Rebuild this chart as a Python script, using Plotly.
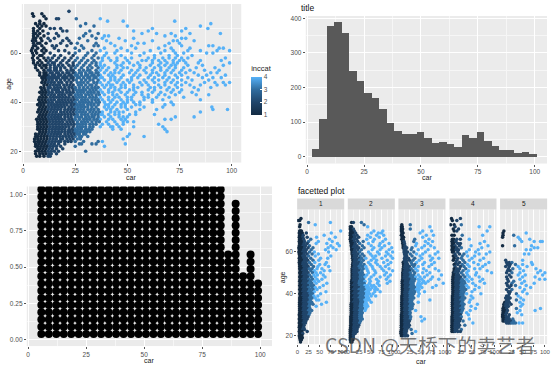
import plotly.graph_objects as go

W, H = 554, 367
CAT_LIMITS = [12, 25, 37]
CAT_COLORS = ["#132B43", "#20456A", "#306C9E", "#56B1F7"]

# main scatter: (age, car values)
SCATTER_ROWS = [
(77,[22]),(76,[4.5,9]),(75,[5,10]),(74,[11,16,17,25.5,37]),(73,[40.5,48,72.7,8]),(72,[8,30,90,6,10]),(71,[7,9,11,27.5,34,50,85]),
(70,[5,8,13,15,18,62,78,88.6]),(69,[5,7,9.5,19,21,32,53,60,76]),(68,[5,6,8,12,16,30,36,57,64,71,80,94.6]),
(67,[5,7,10,17,29,33,39,41,68,73]),(66,[5,6,8.5,12,15,21,27,35,38,46,53,76,78]),(65,[4.5,6,9,13,19,22,31,40,49,62,72,74,82]),
(64,[5,7,8,11,18,23,26,35,42,55,58,70,75]),(63,[5,6,9,14,16,21,28,34,36,44,52,68,76,89,91]),(62,[4.5,7,10,15,25,29,39,47,54,65,71,80,94,96]),
(61,[4,6,9,11,17,20,27,33,37,45,50,61,68,72,79,85,93,99]),(60,[4.5,6.5,10,13,22,25,31,35,40,44,52,58,66,73,77,88,91]),
(59,[5,8,9,15,18,24,30,34,39,47,56,63,70,74,81]),(58,[4.5,7,10,14,20,23,29,36,41,45,49,60,67,73,76,79,97]),
(57,[5,8,11,16,19,25,28,31,38,42,50,57,62,68,72,75,77,85,95]),(56,[5,7,12,15,21,24,30,33,37,44,48,55,69,74,78,84,99]),
(55,[6,8,10,13,19,22,26,32,35,39,47,53,61,65,71,73,79,86,96]),(54,[6,9,11,15,18,20,25,28,31,36,41,45,50,56,63,70,77,83,92]),
(53,[7,10,13,16,21,24,29,32,35,40,44,52,58,66,72,76,80,87,94]),(52,[8,11,14,17,19,22,25,27,30,33,36,39,42,46,51,59,64,71,75,78,82,90,93]),
(51,[8,10,12,15,18,20,23,26,28,31,34,37,43,48,53,61,65,73,84,88,97]),(50,[9,11,13,15,17,19,21,24,27,29,32,35,38,44,47,55,60,67,74,79,86,91,95]),
(49,[9.5,11,12.5,14,16,18,20,22,24,25.5,28,30,32,33.5,36,39,42,46,52,62,69,76,81,89]),
(48,[9,10.5,12,13.5,15,17,18.5,21,23,26,27.5,29,31,34,35.5,37,41,48,51,59,68,71,78,87,92,96,99]),
(47,[10,11.5,13,14.5,16,17.5,19.5,21,22.5,24,26.5,28,30,32,33,35,38,40,43,47,53,57,65,73,80,85,93,97]),
(46,[8.5,10,12,13,15,16.5,18,20,22,23.5,25,27,29,31,33,34.5,36,39,42,49,55,63,74,82,90]),
(45,[9,10.5,12,14,15.5,17,19,20.5,22,24,25.5,27,28.5,30,32,33.5,35,37,41,44,51,60,69,76,84]),
(44,[8,9.5,11,12.5,14,16,17.5,19,21,22.5,24,26,27.5,29,31,32.5,34,36,38,43,50,54,62,71,81]),
(43,[9,10.5,12,13.5,15,17,18.5,20,22,23,25,26.5,28,30,31.5,33,35,36.5,39,45,49,57,65,73,83,89]),
(42,[8,9.5,11,13,14.5,16,17.5,19,20.5,22,24,25.5,27,28.5,30,32,33.5,35,37,41,44,52,60,70,77]),
(41,[7.5,9,10.5,12,13.5,15,17,18.5,20,21.5,23,24.5,26,28,29.5,31,33,34.5,36,38,43,47,50,58,67,85]),
(40,[8,9.5,11,12.5,14,16,17.5,19,20.5,22,23.5,25,27,28.5,30,31.5,33,35,36.5,39,42,45,48,53,56,71]),
(39,[7,8.5,10,12,13.5,15,16.5,18,19.5,21,23,24.5,26,27.5,29,31,32.5,34,36,41,44,49,54,68,72]),
(38,[8,9.5,11,12.5,14,15.5,17,18.5,20,22,23.5,25,26.5,28,29.5,31,33,35,39,43,47,52,67,90.5]),
(37,[7.5,9,10.5,12,13.5,15,16.5,18,20,21.5,23,24.5,26,27.5,29,31,32.5,34,36,40,45,50,64,91,98]),
(36,[7,8.5,10,11.5,13,14.5,16,18,19.5,21,22.5,24,25.5,27,28.5,30,32,35,38,42,48,54,85]),
(35,[8,9.5,11,12.5,14,15.5,17,18.5,20,21.5,23,24.5,26,28,29.5,31,33,36,41,44,51,63]),
(34,[7.5,9,10.5,12,13.5,15,16.5,18,20,21.5,23,25,26.5,28,30,34,39,46,50,73,82]),
(33,[6.5,8,9.5,11,12.5,14,15.5,17,18.5,20,22,23.5,25,27,29,32,37,43,49,68,71]),
(32,[7,8.5,10,11.5,13,14.5,16,17.5,19,21,22.5,24,26,28,33,40,48,53]),
(31,[7,8,9.5,11,12.5,14,15.5,17,18.5,20,21.5,23,24.5,27,35,45,65]),
(30,[7,8.5,10,11.5,13,14.5,16,17.5,19,20.5,22,24,26,30,42,43,53,67]),
(29,[7,8,9.5,11,12.5,14,15.5,17,18.5,20,22,25,28,43,47,68]),
(28,[8,9.5,11,12.5,14,15.5,17,18.5,20,21.5,24,26,29,69]),
(27,[6,7.5,9,10.5,12,13.5,15,16.5,18,20,23,27,51]),(26,[6,7,8.5,10,11.5,13,14.5,16,17.5,19,22,25,31,50,58]),
(25,[5.5,7,8.5,10,11.5,13,14.5,16,18,19,21,24,48]),(24,[5.5,7,8,9.5,11,12.5,14,15.5,17,18,23,29,36,38]),(23,[6,7.5,9,10.5,12,13.5,15,17,20,27,28,33,35,49]),
(22,[6,7,8.5,10,11.5,13,14.5,16,18,25,39]),(21,[7,8,9.5,11,12.5,14,16,19]),(20,[6,7.5,9,10.5,12,13.5,15,17,30]),(19,[6,8,9.5,11,12.5,13.5,16]),(18,[6.5,8,10,12,13])
]
# further marks read from the busy part of the same panel
SCATTER_EXTRA = [
(58,[12,17,26,33,38,52,63,70]),(57,[13,22,34,45,59,65]),(56,[9,14,18,27,35,51,62,66,72]),
(55,[11,15,17,24,29,37,45,56,68]),(54,[13,16,23,33,38,48,59,66,73]),(53,[12,15,18,23,27,31,37,47,55,62,69]),
(52,[10,13,16,21,24,28,32,35,44,54,62,68]),(51,[11,14,17,22,25,30,33,36,41,56,68,76]),
(50,[10,12,14,16,20,23,26,31,34,37,42,52,63,70]),(49,[44,50,58,65,72]),(48,[45,56,63,74]),
(47,[42,49,60,68,76]),(46,[44,47,53,61,66,70]),(45,[46,53,63,72]),(44,[41,47,57,66,75]),
(43,[43,53,60,68]),(42,[46,50,58,64]),(41,[41,52,62]),(40,[50,62]),
(39,[39.5,47,56]),(38,[41,49,58]),(37,[42,56]),(36,[33.5,36.5,44,46]),(35,[34.5,37.5,38,46,54]),(34,[31.5,33,36,42,48]),(33,[30.5,34,35.5,41,47]),
(32,[29.5,31,35,36.5,44,50]),(31,[26,28.5,30,32,33.5,38,41,48]),(30,[27.5,28.5,32,33.5,37,46]),(29,[23.5,26.5,30,31.5,33]),(28,[22.5,25,27.5,30.5,32]),(27,[21.5,24.5,26,29,30]),
(26,[20.5,23.5,27,28]),(25,[22.5,26,27.5]),(24,[20,21.5,25]),
]

HIST_LEFT = 2.0
HIST_WIDTH = 3.29
HIST_COUNTS = [22,110,378,388,358,247,218,184,171,138,98,73,67,67,72,55,40,42,37,28,62,53,70,45,30,20,20,11,14,8]

DOT_START = 5.7
DOT_STEP = 3.22
DOT_ROW0 = 0.037
DOT_ROW_STEP = 0.05
DOT_COUNTS = [24]*25 + [12,19,9,12,8]

FACET_ROWS = {
1:[(76,[8]),(75,[2,5]),(74,[25,74]),(73,[6,40]),(72,[5]),(70,[5,7,9,97]),(69,[4,6,8,11,20,76]),(68,[5,7,9,13,60]),(67,[4,6,8,12,22,43,85]),(66,[5,7,10,14,30,72]),(65,[4,6,9,16,25,47,78]),
(64,[5,8,11,15,22,42,66,90]),(63,[4,6,9,13,18,27,75,94]),(62,[3,5,8,11,16,24,35,69,80]),(61,[4,7,10,14,20,31,63,87]),(60,[3,5,8,12,18,27,38,70]),(59,[4,6,10,15,22,33,47]),(58,[5,8,12,17,25,40,75]),
(57,[4,6,9,14,20,30,52,68]),(56,[5,8,11,16,23,35,48]),(55,[4,7,10,13,19,27,39,65]),(54,[5,8,12,15,21,31,50,62]),(53,[5,7,10,14,18,24,36,46,70]),(52,[5,8,11,15,20,27,33,44,55]),
(51,[6,9,12,16,21,30,38,60,73]),(50,[5,7,10,14,18,24,34,42,52]),(49,[6,9,12,16,20,27,37,45,58]),(48,[5,8,11,15,19,23,31,40,62]),(47,[6,9,12,16,21,26,34,44,55]),(46,[5,8,11,14,18,24,29,38,48]),
(45,[6,9,12,16,20,26,32,42,66]),(44,[5,8,11,14,18,23,30,36,58]),(43,[6,9,12,15,20,25,33,40,50]),(42,[5,8,11,14,18,22,28,35,44]),(41,[6,9,12,16,20,25,31,38,64]),(40,[5,8,11,14,18,23,28,34,52]),
(39,[6,9,12,15,19,24,30,37,46]),(38,[5,8,10,14,18,22,27,33,40]),(37,[5,8,11,14,18,23,29,43,48]),(36,[5,7,10,13,17,21,26,32,65]),(35,[5,8,11,14,18,22,28,35,54]),(34,[5,7,10,13,17,21,26,42]),
(33,[5,8,11,14,18,23,28]),(32,[5,7,10,13,16,20,25,32]),(31,[5,8,11,14,18,22,28]),(30,[4,7,10,13,16,20,26]),(29,[5,8,11,14,18,24]),(28,[4,7,10,13,16,22]),(27,[5,8,11,15,19]),(26,[4,7,10,13,18]),
(25,[5,8,11,15]),(24,[4,7,10,14]),(23,[5,8,12,16]),(22,[4,7,10,22]),(21,[5,8,12]),(20,[4,7,10]),(19,[5,8,11]),(18,[6,9]),(17,[7])],
2:[(74,[8,12,30]),(73,[36]),(72,[5,8,44]),(71,[5,8,12]),(70,[6,9,14,58,78]),(69,[5,7,11,17,52,68,75]),(68,[5,8,13,20,44,64,80]),(67,[6,9,15,24,50,70]),(66,[5,8,12,19,42,59,84]),
(65,[6,9,14,22,34,56,78]),(64,[7,11,16,26,46,72,92]),(63,[7,10,14,20,32,52,70,82]),(62,[8,12,18,24,36,58,76,98]),(61,[8,11,15,22,30,54,72,92]),(60,[9,13,18,26,46,66,86,100]),
(59,[9,12,16,22,32,50,70,90]),(58,[10,14,19,27,36,54,62,84,96]),(57,[10,13,17,24,30,40,58,76,100]),(56,[11,15,20,26,34,52,64,88]),(55,[11,14,18,24,30,46,62,80,96]),
(54,[10,13,17,22,28,36,50,66,90]),(53,[10,14,19,25,32,40,54,72,84]),(52,[9,12,16,21,27,34,42,56,76,92]),(51,[9,13,18,24,31,44,60,80,100]),(50,[9,12,16,20,26,32,46,62,86]),
(49,[9,13,17,22,28,35,42,58,82,95]),(48,[9,12,16,21,27,33,38,52,72,90]),(47,[9,13,17,22,28,34,48,64,86]),(46,[8,12,16,20,26,32,38,50,68,94]),(45,[8,11,15,20,25,31,36,48,66,88]),
(44,[8,12,16,21,26,32,38,52,70,44,58]),(43,[8,11,15,19,24,30,35,46,62,41,54]),(42,[8,12,16,20,25,31,36,50,66,44,60]),(41,[8,11,15,19,24,29,34,46,60,40,72]),(40,[8,12,16,20,25,30,36,48,42,56]),
(39,[8,11,15,19,24,28,34,44,62,40,52]),(38,[8,12,16,20,25,30,35,46,42]),(37,[8,11,15,19,23,28,33,38,48,44]),(36,[8,12,16,20,24,29,34,40,52]),(35,[7,11,15,19,23,28,32,42,38]),(34,[7,11,15,19,23,27,32,44,38]),
(33,[7,11,15,19,23,28,33,40]),(32,[7,10,14,18,22,26,30,38]),(31,[7,11,15,19,23,27,32]),(30,[7,10,14,18,22,26,30]),(29,[6,10,14,18,22,26,30]),(28,[6,10,14,18,22,26,32]),(27,[6,10,14,18,22,28]),(26,[6,9,13,17,21,26]),
(25,[6,10,14,18,24]),(24,[6,9,13,17,22]),(23,[5,9,13,18,20]),(22,[5,9,13,16,20]),(21,[5,9,12,16]),(20,[5,8,12]),(19,[5,8,12]),(18,[5,9,11]),(17,[6,9])],
3:[(73,[7,26]),(72,[6,8,70]),(71,[6,9,26]),(70,[6,8,54,74]),(69,[7,10,48]),(68,[6,8,62,78]),(67,[8,11,54]),(66,[7,10,36,68]),(65,[9,12,34,60,76]),(64,[9,13,40,66]),(63,[10,14,38,58,72]),(62,[10,13,18,30,52,80]),
(61,[12,16,28,44,66]),(60,[12,15,20,34,60,88]),(59,[13,17,26,40,54,82]),(58,[14,18,30,48,70]),(57,[13,16,22,36,52,76,90]),(56,[13,17,24,32,46,72]),(55,[10,14,18,28,40,58,80]),
(54,[11,15,20,30,36,54,74]),(53,[11,14,18,24,34,44,68]),(52,[10,13,17,22,28,38,56,82]),(51,[10,14,18,24,32,42,62,90]),(50,[9,12,16,20,26,36,54,70]),(49,[9,13,17,22,28,34,44,64,96]),
(48,[9,12,16,20,26,32,38,58,76,48]),(47,[9,12,15,19,24,30,36,52,72,90,44]),(46,[8,11,15,19,24,28,34,46,66,56]),(45,[8,11,14,18,22,27,32,44,60,100,52]),(44,[8,11,15,19,24,28,33,48,84,42]),
(43,[8,11,14,18,22,26,31,36,52,76,44]),(42,[8,11,15,19,23,28,34,46,40]),(41,[8,11,14,18,22,26,30,36,58,44]),(40,[8,10,13,17,21,25,30,34,46]),(39,[7,10,14,18,22,26,31,44]),(38,[7,10,13,17,21,25,29,34]),
(37,[7,10,14,18,22,26,30,70]),(36,[7,10,13,17,21,25,29,44]),(35,[7,10,14,18,22,27,32]),(34,[7,10,13,17,21,25,30]),(33,[7,10,14,18,22,26,30]),(32,[7,10,13,17,21,25,38]),(31,[7,10,14,18,22,26]),(30,[6,9,13,17,21,25]),
(29,[6,10,14,18,22,27,50]),(28,[6,9,13,17,21,26,58]),(27,[6,10,14,18,24,52]),(26,[6,9,13,17,22]),(25,[6,10,14,18,24]),(24,[6,9,13,17,22]),(23,[6,10,14,18,28]),(22,[5,9,13,17,38]),(21,[5,9,13,16,30]),(20,[6,9,13,16,20])],
4:[(76,[4,24]),(75,[6,16]),(73,[2,10,26]),(72,[12,66,90]),(71,[8,20]),(70,[10,16,84]),(68,[5,10,28,74]),(66,[6,9,16,24,44]),(65,[5,8,14,78]),(64,[6,9,18,24,68]),(63,[5,8,12,22,48,86]),(62,[6,10,16,26,72]),
(61,[5,9,14,20,44,64]),(60,[6,9,18,38,58,90]),(59,[12,22,32,66,82]),(58,[8,14,28,40,56]),(57,[10,18,26,50,76]),(56,[8,16,30,44,68]),(55,[14,22,34,54,88]),(54,[10,18,28,40,64,80]),
(53,[12,24,32,44,74]),(52,[10,16,22,36,56,68]),(51,[10,14,20,30,42,84]),(50,[8,12,18,26,38,60,94]),(49,[8,11,15,20,30,40,58]),(48,[7,10,14,18,24,34,44,66]),(47,[7,10,14,18,22,28,38,50,74]),
(46,[7,10,13,17,21,26,32,42,68]),(45,[7,10,14,18,22,27,34,52,78]),(44,[7,10,13,17,21,25,30,38,58]),(43,[7,10,14,18,22,26,32,42,66]),(42,[7,10,13,17,21,25,30,36,56]),(41,[7,10,14,18,22,26,32,50]),
(40,[7,10,13,17,21,25,30,38,70]),(39,[6,9,13,17,21,25,30,48]),(38,[6,9,12,16,20,24,28,34,52]),(37,[6,9,13,17,21,25,30,46]),(36,[6,9,12,16,20,24,28,44]),(35,[6,9,13,17,21,26,32,62]),
(34,[6,9,12,16,20,24,29,48]),(33,[6,9,13,17,21,25,30,58]),(32,[6,9,12,16,20,24,28,46]),(31,[6,9,13,17,21,26,38]),(30,[6,9,12,16,20,24,42]),(29,[5,8,12,16,20,26]),(28,[5,8,12,16,20,24,44]),(27,[5,9,13,17,22,30]),
(26,[5,8,12,16,20,52]),(25,[5,8,12,16,22,34]),(24,[5,8,12,16,20]),(23,[5,8,12,16,26]),(22,[5,8,12,18,24])],
5:[(70,[8]),(69,[6,58]),(68,[6,30]),(67,[5,40]),(66,[66,44]),(65,[48,76,90,94]),(63,[5,32,70]),(62,[76,84]),(61,[68,58]),(59,[64,54]),(56,[50,12]),(55,[20,14,26,70]),(54,[16,22,34,50,72]),(53,[12,20,40,60]),(52,[18,28,44,80]),
(51,[16,22,52,90]),(50,[14,26,44,84,100]),(49,[20,40,56,95]),(48,[14,24,50,78]),(47,[16,44,88,100]),(46,[18,30,54]),(45,[14,26,48,76]),(44,[16,24,34,58]),(43,[20,44,68]),(42,[14,26,54]),
(41,[18,22,50]),(40,[20,36,60]),(39,[14,18,40]),(38,[12,16,22,46]),(37,[14,18,36,52]),(36,[10,14,20,44]),(35,[8,12,16,24,50]),(34,[8,12,18,46]),(33,[6,10,14,36,90]),(32,[6,10,16,44,78]),(31,[6,10,14,38]),
(30,[5,8,12,20,48]),(29,[5,9,13,18]),(28,[6,9,13,16,20,28]),(27,[6,9,12,16,20,24,30]),(26,[14,18,22,26,30,34,42,50])],
}

def rows_to_xy(rows):
    xs, ys, cs = [], [], []
    for age, cars in rows:
        for c in cars:
            xs.append(c)
            ys.append(age)
            cs.append(1 + sum(c >= lim for lim in CAT_LIMITS))
    return xs, ys, cs

def dom_x(a, b): return [a / W, b / W]
def dom_y(top, bottom): return [1 - bottom / H, 1 - top / H]

TICKFONT = dict(family="Liberation Sans, Arial", size=6.5, color="#4D4D4D")
COLORSCALE = [[i / 3, c] for i, c in enumerate(CAT_COLORS)]

def axis(dom, rng, major, minor, show=True, anchor=None, labels=None):
    d = dict(domain=dom, range=rng, tickvals=major, showgrid=True, gridcolor="white", gridwidth=1,
             zeroline=False, showline=False, ticks="outside" if show else "", ticklen=2, tickwidth=0.7,
             tickcolor="#555555", tickfont=TICKFONT, showticklabels=show, anchor=anchor, tickangle=0,
             minor=dict(tickvals=minor, showgrid=True, gridcolor="#F6F6F6", gridwidth=0.6, ticks=""))
    if labels: d["ticktext"] = labels
    return d

XM = [0, 25, 50, 75, 100]
Xm = [12.5, 37.5, 62.5, 87.5]
fig = go.Figure()
layout = {}

# panel 1
x, y, c = rows_to_xy(SCATTER_ROWS + SCATTER_EXTRA)
fig.add_trace(go.Scatter(x=x, y=y, mode="markers", xaxis="x", yaxis="y", showlegend=False,
    marker=dict(size=3.6, color=c, cmin=1, cmax=4, colorscale=COLORSCALE, line=dict(width=0),
        colorbar=dict(x=252/W, xanchor="left", y=1-114/H, yanchor="bottom", len=52, lenmode="pixels", thickness=11,
            thicknessmode="pixels", xpad=0, ypad=0, outlinewidth=0, tickvals=[1,2,3,4], ticks="inside", ticklen=2,
            tickcolor="white", tickwidth=0.6, tickfont=TICKFONT, title=dict(text="inccat", side="top",
            font=dict(family="Liberation Sans, Arial", size=7.5, color="#222222"))))))
layout["xaxis"] = axis(dom_x(21, 242), [-0.6, 104.6], XM, Xm, anchor="y")
layout["yaxis"] = axis(dom_y(3, 162), [15.4, 80], [20, 40, 60], [30, 50, 70], anchor="x")

# panel 2
hist_x = [HIST_LEFT + HIST_WIDTH * (i + 0.5) for i in range(len(HIST_COUNTS))]
fig.add_trace(go.Bar(x=hist_x, y=HIST_COUNTS, width=HIST_WIDTH, marker=dict(color="#595959", line=dict(width=0)),
    xaxis="x2", yaxis="y2", showlegend=False))
layout["xaxis2"] = axis(dom_x(307, 550), [-0.6, 105.4], XM, Xm, anchor="y2")
layout["yaxis2"] = axis(dom_y(15, 163), [-20, 406.6], [0, 100, 200, 300, 400], [50, 150, 250, 350], anchor="x2")

# panel 3
dx, dy = [], []
for i, n in enumerate(DOT_COUNTS):
    for k in range(n):
        dx.append(DOT_START + DOT_STEP * i)
        dy.append(DOT_ROW0 + DOT_ROW_STEP * k)
fig.add_trace(go.Scatter(x=dx, y=dy, mode="markers", xaxis="x3", yaxis="y3", showlegend=False,
    marker=dict(size=8.0, color="black", line=dict(width=0))))
layout["xaxis3"] = axis(dom_x(26, 273), [-0.56, 105.1], XM, Xm, anchor="y3")
layout["yaxis3"] = axis(dom_y(186, 346), [-0.046, 1.057], [0, .25, .5, .75, 1], [.125, .375, .625, .875], anchor="x3",
                        labels=["0.00", "0.25", "0.50", "0.75", "1.00"])

# facets
FACET_LEFT = [298.3, 349.3, 400.3, 451.7, 502.7]
FACET_W = 47.4
shapes, annotations = [], []
for i, f in enumerate(sorted(FACET_ROWS)):
    n = i + 4
    x, y, c = rows_to_xy(FACET_ROWS[f])
    fig.add_trace(go.Scatter(x=x, y=y, mode="markers", xaxis=f"x{n}", yaxis=f"y{n}", showlegend=False,
        marker=dict(size=3.5, color=c, cmin=1, cmax=4, colorscale=COLORSCALE, line=dict(width=0))))
    layout[f"xaxis{n}"] = axis(dom_x(FACET_LEFT[i], FACET_LEFT[i] + FACET_W), [-0.6, 105], XM, Xm, anchor=f"y{n}")
    layout[f"xaxis{n}"]["tickfont"] = dict(TICKFONT, size=6)
    layout[f"yaxis{n}"] = axis(dom_y(209, 344), [16, 80.3], [20, 40, 60], [30, 50, 70], show=(i == 0), anchor=f"x{n}")
    shapes.append(dict(type="rect", xref="paper", yref="paper", x0=FACET_LEFT[i] / W, x1=(FACET_LEFT[i] + FACET_W) / W,
                       y0=1 - 209 / H, y1=1 - 198 / H, fillcolor="#D9D9D9", line=dict(width=0)))
    annotations.append((FACET_LEFT[i] + FACET_W / 2, 203.5, str(f), 6.5, "#1A1A1A", 0, "center"))

annotations += [
    (131, 177, "car", 7, "#222222", 0, "center"), (8, 83, "age", 7, "#222222", -90, "center"),
    (429, 177, "car", 7, "#222222", 0, "center"), (300, 7, "title", 8.5, "#111111", 0, "left"),
    (149, 360, "car", 7, "#222222", 0, "center"), (423, 361, "car", 7, "#222222", 0, "center"),
    (284, 277, "age", 7, "#222222", -90, "center"), (297, 191, "facetted plot", 8.5, "#111111", 0, "left"),
]
ann = [dict(x=a[0] / W, y=1 - a[1] / H, xref="paper", yref="paper", text=a[2], showarrow=False, textangle=a[5],
            xanchor=a[6], yanchor="middle", font=dict(family="Liberation Sans, Arial", size=a[3], color=a[4]))
       for a in annotations]
ann.append(dict(x=432 / W, y=1 - 344 / H, xref="paper", yref="paper", text="CSDN @天桥下的卖艺者", showarrow=False,
                xanchor="center", yanchor="middle",
                font=dict(family="Noto Sans CJK SC", size=19.5, color="rgba(70,70,70,0.72)")))

fig.update_layout(width=W, height=H, margin=dict(l=0, r=0, t=0, b=0, pad=0), paper_bgcolor="white",
                  plot_bgcolor="#EBEBEB", showlegend=False, bargap=0, shapes=shapes, annotations=ann, **layout)
fig.write_html("out.html", config={"displayModeBar": False},
               post_script="document.body.style.margin='0';document.body.style.overflow='hidden';")
